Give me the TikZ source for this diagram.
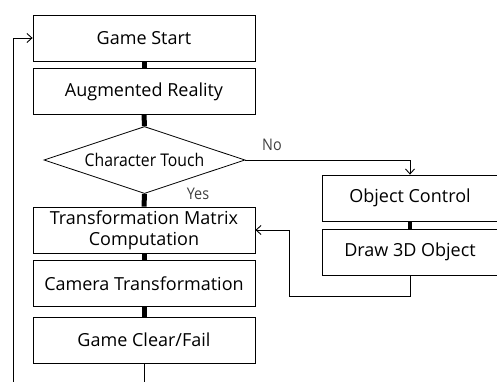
\documentclass[tikz,border=0pt]{standalone}
\usepackage{fontspec}
\setmainfont{Open Sans}
\newfontfamily\narrowfont{Open Sans}[FakeStretch=0.9]
\usetikzlibrary{shapes.geometric,arrows.meta}
\begin{document}
\begin{tikzpicture}[x=1pt,y=-1pt,
  box/.style={draw,line width=0.8pt,minimum width=222pt,minimum height=46pt,
    inner sep=0pt,align=center,font=\fontsize{18}{21}\selectfont},
  sidebox/.style={box,minimum width=176pt},
  decision/.style={draw,line width=0.8pt,diamond,aspect=3,minimum width=201pt,
    minimum height=67pt,inner sep=0pt,font=\narrowfont\fontsize{17.5}{20}\selectfont},
  joint/.style={line width=5pt},
  flow/.style={line width=0.9pt,-{Straight Barb[length=5pt,width=9pt]}},
  lbl/.style={font=\narrowfont\fontsize{16}{18}\selectfont,text=black!75}]
\useasboundingbox (0,0) rectangle (497,381);
\clip (0,0) rectangle (497,381);

% main column
\node[box] (gs) at (144,38) {Game Start};
\node[box] (ar) at (144,91.5) {Augmented Reality};
\node[decision] (ct) at (144.5,160) {Character Touch};
\node[box] (tm) at (144,230) {Transformation Matrix\\Computation};
\node[box] (cam) at (144,283.5) {Camera Transformation};
\node[box] (gc) at (144,340) {Game Clear/Fail};

% side column
\node[sidebox] (oc) at (410,198) {Object Control};
\node[sidebox] (d3) at (410,252) {Draw 3D Object};

% short joints between stacked steps
\draw[joint] (gs.south) -- (ar.north);
\draw[joint] (ar.north |- ar.south) -- (ct.north);
\draw[joint] (ct.south) -- (tm.north);
\draw[joint] (tm.south) -- (cam.north);
\draw[joint] (cam.south) -- (gc.north);
\draw[line width=3.5pt] (oc.south) -- (d3.north);

% branch to the side column
\draw[flow] (ct.east) -| (oc.north);
\node[lbl] (no) at (272,145) {No};
\node[lbl] (yes) at (198,194) {Yes};

% return from the side column
\coordinate (fb) at (289,296);
\draw[flow] (d3.south) |- (fb) |- (tm.east);

% loop back to the start
\coordinate (lb) at (13,400);
\draw[flow] (gc.south) |- (lb) |- (gs.west);
\end{tikzpicture}
\end{document}
